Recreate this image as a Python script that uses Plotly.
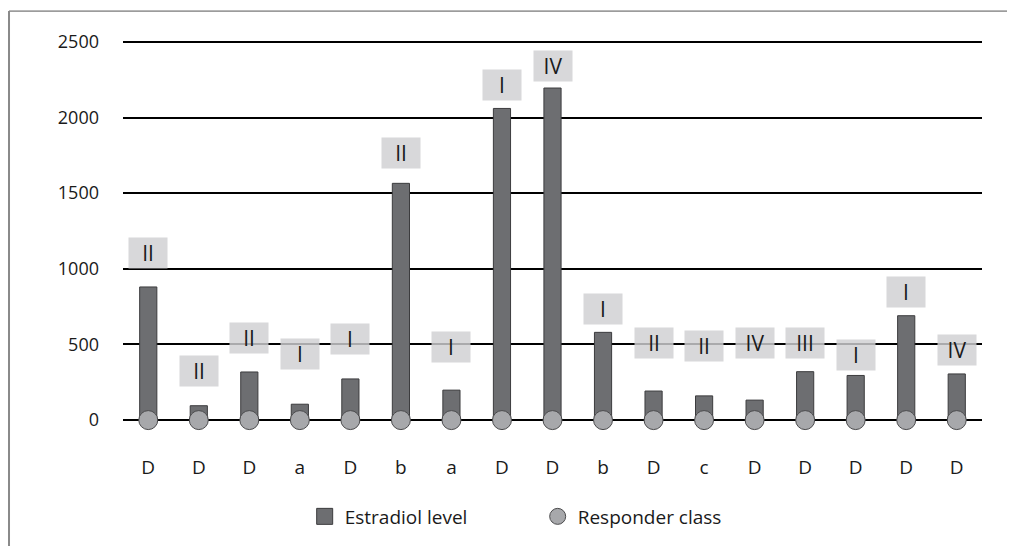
import plotly.graph_objects as go

categories = ["D", "D", "D", "a", "D", "b", "a", "D", "D", "b", "D", "c", "D", "D", "D", "D", "D"]
estradiol = [880, 95, 318, 105, 272, 1565, 198, 2060, 2195, 580, 192, 160, 132, 320, 295, 690, 305]
responder_class = ["II", "II", "II", "I", "I", "II", "I", "I", "IV", "I", "II", "II", "IV", "III", "I", "I", "IV"]
label_y = [1105, 322, 540, 434, 533, 1763, 480, 2217, 2342, 737, 507, 493, 507, 507, 428, 849, 461]
y_ticks = [0, 500, 1000, 1500, 2000, 2500]

x = list(range(len(categories)))
FONT = "Open Sans"
BAR_COLOR = "#6d6e71"
DOT_COLOR = "#a7a8ab"

fig = go.Figure()
fig.add_trace(go.Bar(
    x=x, y=estradiol, name="Estradiol level", width=0.34, showlegend=False,
    marker=dict(color=BAR_COLOR, line=dict(color="#3c3c3e", width=1)),
))
fig.add_trace(go.Scatter(
    x=x, y=[0] * len(x), mode="markers", name="Responder class", showlegend=False,
    marker=dict(size=19, color=DOT_COLOR, line=dict(color="#4a4a4c", width=1)),
    cliponaxis=False,
))
# legend entries
fig.add_trace(go.Scatter(
    x=[None], y=[None], mode="markers", name="Estradiol level",
    marker=dict(symbol="square", size=16, color=BAR_COLOR, line=dict(color="#3c3c3e", width=1)),
))
fig.add_trace(go.Scatter(
    x=[None], y=[None], mode="markers", name="Responder class",
    marker=dict(symbol="circle", size=18, color=DOT_COLOR, line=dict(color="#4a4a4c", width=1)),
))

for xi, lab, ly in zip(x, responder_class, label_y):
    fig.add_annotation(
        x=xi, y=ly, text=lab, showarrow=False,
        font=dict(family=FONT, size=21, color="#1a1a1a"),
        bgcolor="rgba(208,208,210,0.82)", width=36, height=28, borderpad=1,
        xanchor="center", yanchor="middle",
    )

# frame lines
fig.add_shape(type="line", xref="paper", yref="paper", x0=-0.1327, x1=1.05, y0=1.0488, y1=1.0488,
              line=dict(color="#555555", width=1))
fig.add_shape(type="line", xref="paper", yref="paper", x0=-0.1327, x1=-0.1327, y0=1.0488, y1=-0.27,
              line=dict(color="#8a8a8a", width=2))

fig.update_layout(
    width=1007, height=539,
    margin=dict(l=115, r=33, t=23, b=106),
    plot_bgcolor="white", paper_bgcolor="white",
    font=dict(family=FONT, size=18, color="#1a1a1a"),
    showlegend=True,
    legend=dict(orientation="h", x=0.2115, y=-0.19, xanchor="left", yanchor="middle",
                font=dict(family=FONT, size=19, color="#1a1a1a"), entrywidth=188,
                itemsizing="trace"),
    bargap=0.66,
)
fig.update_xaxes(
    tickmode="array", tickvals=x, ticktext=categories, range=[-0.5, len(x) - 0.5],
    showgrid=False, zeroline=False, showline=False, ticks="", ticklabelstandoff=15,
    tickfont=dict(size=19),
)
fig.update_yaxes(
    range=[-125, 2572], tickvals=y_ticks, showgrid=True, gridcolor="black", gridwidth=2,
    zeroline=True, zerolinecolor="black", zerolinewidth=2, showline=False, ticks="",
    ticklabelstandoff=23,
)

fig.write_html("out.html")
